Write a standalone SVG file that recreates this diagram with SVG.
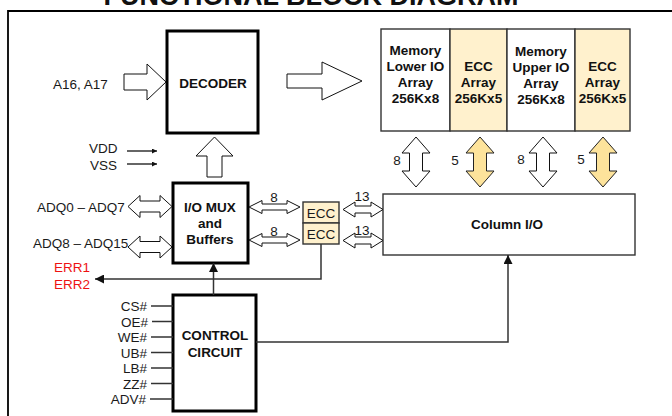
<svg xmlns="http://www.w3.org/2000/svg" width="672" height="416" viewBox="0 0 672 416">
<style>
text{font-family:"Liberation Sans",Arial,sans-serif;font-size:13.5px;fill:#1a1a1a}
.b{font-weight:bold;fill:#111}
.m{text-anchor:middle}
.e{text-anchor:end}
.red{fill:#ee1111}
.blk{fill:#fff;stroke:#000;stroke-width:3}
.thin{fill:#fff;stroke:#333;stroke-width:1.4}
.yel{fill:#fff1cd;stroke:#333;stroke-width:1.4}
.hol{fill:#fff;stroke:#111;stroke-width:1}
.hy{fill:#fde39b;stroke:#222;stroke-width:1}
.ln{fill:none;stroke:#333;stroke-width:1.5}
</style>
<defs>
<marker id="ah" viewBox="0 0 10 10" refX="10" refY="5" markerWidth="10" markerHeight="9" markerUnits="userSpaceOnUse" orient="auto"><path d="M0,0 L10,5 L0,10 z" fill="#111"/></marker>
<marker id="ahs" viewBox="0 0 10 10" refX="10" refY="5" markerWidth="5" markerHeight="5" markerUnits="userSpaceOnUse" orient="auto"><path d="M0,0 L10,5 L0,10 z" fill="#111"/></marker>
</defs>

<g id="frame">
<path d="M8,416 L8,11 L672,11" fill="none" stroke="#000" stroke-width="1.8"/>
<text class="b m" x="311" y="5" style="font-size:27px">FUNCTIONAL BLOCK DIAGRAM</text>
</g>

<g id="decoder">
<rect class="blk" x="167" y="31" width="91" height="102"/>
<text class="b m" x="213" y="88">DECODER</text>
</g>

<g id="memory-arrays">
<rect class="thin" x="381" y="29" width="69" height="102"/>
<rect class="yel" x="450" y="29" width="57" height="102"/>
<rect class="thin" x="507" y="29" width="68" height="102"/>
<rect class="yel" x="575" y="29" width="55" height="102"/>
<text class="b m" x="415.5" y="55">Memory</text>
<text class="b m" x="415.5" y="71">Lower IO</text>
<text class="b m" x="415.5" y="87">Array</text>
<text class="b m" x="415.5" y="103">256Kx8</text>
<text class="b m" x="478.5" y="71">ECC</text>
<text class="b m" x="478.5" y="87">Array</text>
<text class="b m" x="478.5" y="103">256Kx5</text>
<text class="b m" x="541" y="56">Memory</text>
<text class="b m" x="541" y="72">Upper IO</text>
<text class="b m" x="541" y="88">Array</text>
<text class="b m" x="541" y="104">256Kx8</text>
<text class="b m" x="602.5" y="71">ECC</text>
<text class="b m" x="602.5" y="87">Array</text>
<text class="b m" x="602.5" y="103">256Kx5</text>
</g>

<g id="iomux">
<rect class="blk" x="173" y="183" width="75" height="80"/>
<text class="b m" x="210" y="212">I/O MUX</text>
<text class="b m" x="210" y="228">and</text>
<text class="b m" x="210" y="244">Buffers</text>
</g>

<g id="ecc1">
<rect class="yel" x="303" y="202" width="36" height="21"/>
<text class="m" x="321" y="218">ECC</text>
</g>
<g id="ecc2">
<rect class="yel" x="303" y="223" width="36" height="21"/>
<text class="m" x="321" y="239">ECC</text>
</g>

<g id="column-io">
<rect class="thin" x="383" y="194" width="252" height="61"/>
<text class="b m" x="507" y="229">Column I/O</text>
</g>

<g id="control">
<rect class="blk" x="173" y="295" width="83" height="116"/>
<text class="b m" x="215" y="340">CONTROL</text>
<text class="b m" x="215" y="357">CIRCUIT</text>
</g>

<g id="labels">
<text x="53" y="89">A16, A17</text>
<text x="89" y="153">VDD</text>
<text x="90" y="170">VSS</text>
<text x="37" y="212">ADQ0 – ADQ7</text>
<text x="33" y="248">ADQ8 – ADQ15</text>
<text class="red" x="54" y="272">ERR1</text>
<text class="red" x="54" y="289">ERR2</text>
<text class="e" x="147" y="311">CS#</text>
<text class="e" x="148" y="326.5">OE#</text>
<text class="e" x="147" y="342">WE#</text>
<text class="e" x="147" y="357.5">UB#</text>
<text class="e" x="147" y="373">LB#</text>
<text class="e" x="147" y="388.5">ZZ#</text>
<text class="e" x="146" y="404">ADV#</text>
</g>

<g id="connectors">
<!-- hollow bus arrows -->
<polygon class="hol" points="124,74 147,74 147,64 166,82 147,100 147,90 124,90"/>
<polygon class="hol" points="287,74 322,74 322,62 362,81 322,100 322,88 287,88"/>
<polygon class="hol" points="207,177 207,156 196,156 214.5,137 233,156 222,156 222,177"/>
<polygon class="hol" points="128,206.5 140,195.5 140,201 160,201 160,195.5 172,206.5 160,217.5 160,212 140,212 140,217.5"/>
<polygon class="hol" points="128,247 140,236 140,241.5 160,241.5 160,236 172,247 160,258 160,252.5 140,252.5 140,258"/>
<polygon class="hol" points="249,207 262,200.5 262,204 287,204 287,200.5 300,207 287,213.5 287,210 262,210 262,213.5"/>
<polygon class="hol" points="249,240 262,233.5 262,237 287,237 287,233.5 300,240 287,246.5 287,243 262,243 262,246.5"/>
<polygon class="hol" points="343,209.5 355,202 355,206 371,206 371,202 383,209.5 371,217 371,213 355,213 355,217"/>
<polygon class="hol" points="343,240.5 355,233 355,237 371,237 371,233 383,240.5 371,248 371,244 355,244 355,248"/>
<!-- memory to column I/O -->
<polygon class="hol" points="416,137 430,153 422.5,153 422.5,171 430,171 416,187 402,171 409.5,171 409.5,153 402,153"/>
<polygon class="hy" points="480,137 494,153 486.5,153 486.5,171 494,171 480,187 466,171 473.5,171 473.5,153 466,153"/>
<polygon class="hol" points="543,137 557,153 549.5,153 549.5,171 557,171 543,187 529,171 536.5,171 536.5,153 529,153"/>
<polygon class="hy" points="603,137 617,153 609.5,153 609.5,171 617,171 603,187 589,171 596.5,171 596.5,153 589,153"/>
<text class="m" x="274" y="202">8</text>
<text class="m" x="274" y="236">8</text>
<text class="m" x="362" y="201">13</text>
<text class="m" x="362" y="235">13</text>
<text class="m" x="397" y="165">8</text>
<text class="m" x="455" y="165">5</text>
<text class="m" x="521" y="164">8</text>
<text class="m" x="581" y="164">5</text>
<!-- signal lines -->
<line class="ln" x1="127" y1="151" x2="157" y2="151" marker-end="url(#ahs)" stroke-width="1.2"/>
<line class="ln" x1="127" y1="164" x2="157" y2="164" marker-end="url(#ahs)" stroke-width="1.2"/>
<polyline class="ln" points="321,244 321,279 95,279" marker-end="url(#ah)"/>
<line class="ln" x1="213.5" y1="295" x2="213.5" y2="263" marker-end="url(#ah)"/>
<polyline class="ln" points="256,342 508,342 508,255" marker-end="url(#ah)"/>
<line class="ln" x1="151" y1="306" x2="173" y2="306"/>
<line class="ln" x1="152" y1="321.5" x2="173" y2="321.5"/>
<line class="ln" x1="151" y1="337" x2="173" y2="337"/>
<line class="ln" x1="151" y1="352.5" x2="173" y2="352.5"/>
<line class="ln" x1="151" y1="368" x2="173" y2="368"/>
<line class="ln" x1="151" y1="383.5" x2="173" y2="383.5"/>
<line class="ln" x1="150" y1="399" x2="173" y2="399"/>
</g>
</svg>
